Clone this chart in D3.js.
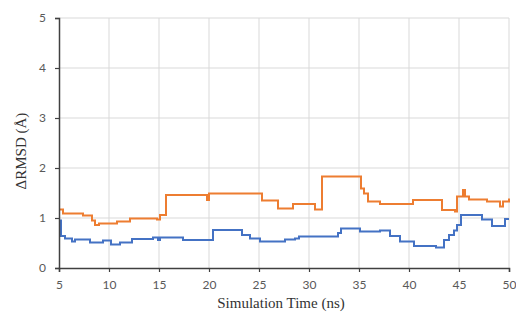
<!DOCTYPE html>
<html><head><meta charset="utf-8">
<script src="https://cdn.jsdelivr.net/npm/d3@7"></script>
<style>html,body{margin:0;padding:0;background:#fff;}</style>
</head><body><svg id="c" width="516" height="326"></svg>
<script>
const xTicks = [5,10,15,20,25,30,35,40,45,50];
const yTicks = [0,1,2,3,4,5];
const orangeT = [5,5.4,7.4,8.3,8.6,9.0,10.8,12.1,14.8,15.1,15.7,19.8,20.0,25.3,26.9,28.4,30.6,31.3,35.2,35.5,35.9,37.1,40.4,43.3,44.6,44.8,45.4,45.6,46.0,47.8,49.1,49.4,50];
const orangeV = [1.17,1.09,1.05,0.95,0.86,0.89,0.93,0.99,0.97,1.06,1.46,1.36,1.49,1.35,1.19,1.28,1.17,1.83,1.59,1.49,1.33,1.28,1.36,1.16,1.13,1.43,1.56,1.43,1.37,1.33,1.23,1.33,1.39];
const blueT = [5,5.2,5.6,6.3,6.6,8.1,9.4,10.2,11.1,12.3,14.4,14.9,15.1,17.4,20.4,23.3,24.1,25.1,27.6,28.6,29.0,32.9,33.2,35.1,37.1,38.1,39.1,40.5,42.7,43.5,44.0,44.5,44.8,45.2,47.3,48.3,49.6,50];
const blueV = [0.95,0.64,0.59,0.53,0.57,0.51,0.55,0.47,0.51,0.58,0.61,0.56,0.61,0.56,0.76,0.66,0.59,0.53,0.57,0.59,0.63,0.70,0.79,0.73,0.75,0.64,0.53,0.44,0.41,0.56,0.66,0.75,0.86,1.06,0.97,0.84,0.98,0.98];

const svg = d3.select('#c');
const x = d3.scaleLinear().domain([5,50]).range([59,509]);
const y = d3.scaleLinear().domain([0,5]).range([268,18]);

svg.append('g').selectAll('line.v').data(xTicks.slice(1)).join('line')
  .attr('x1',d=>x(d)).attr('x2',d=>x(d)).attr('y1',y(0)).attr('y2',y(5))
  .attr('stroke','#d9d9d9').attr('stroke-width',1);
svg.append('g').selectAll('line.h').data(yTicks.slice(1)).join('line')
  .attr('x1',x(5)).attr('x2',x(50)).attr('y1',d=>y(d)).attr('y2',d=>y(d))
  .attr('stroke','#d9d9d9').attr('stroke-width',1);

const line = d3.line().curve(d3.curveStepAfter).x(d=>x(d[0])).y(d=>y(d[1]));
svg.append('path').datum(orangeT.map((t,i)=>[t,orangeV[i]]))
  .attr('d',line).attr('fill','none').attr('stroke','#ED7D31').attr('stroke-width',2);
svg.append('path').datum(blueT.map((t,i)=>[t,blueV[i]]))
  .attr('d',line).attr('fill','none').attr('stroke','#4472C4').attr('stroke-width',2);

const xa = svg.append('g').attr('transform',`translate(0,${y(0)})`)
  .call(d3.axisBottom(x).tickValues(xTicks).tickFormat(d3.format('d')).tickSize(4).tickPadding(8));
const ya = svg.append('g').attr('transform',`translate(${x(5)},0)`)
  .call(d3.axisLeft(y).tickValues(yTicks).tickFormat(d3.format('d')).tickSize(4).tickPadding(9));
[xa,ya].forEach(a=>{
  a.select('.domain').attr('stroke','#404040').attr('stroke-width',1.5);
  a.selectAll('.tick line').attr('stroke','#404040').attr('stroke-width',1.2);
  a.selectAll('text').attr('fill','#595959').attr('font-family','Lato').attr('font-size',12);
});

svg.append('text').attr('x',281).attr('y',308).attr('text-anchor','middle')
  .attr('font-family','Liberation Serif').attr('font-size',15).attr('fill','#333')
  .text('Simulation Time (ns)');
svg.append('text').attr('transform','translate(26,151) rotate(-90)').attr('text-anchor','middle')
  .attr('font-family','Liberation Serif').attr('font-size',15).attr('fill','#333')
  .text('ΔRMSD (Å)');
</script></body></html>
